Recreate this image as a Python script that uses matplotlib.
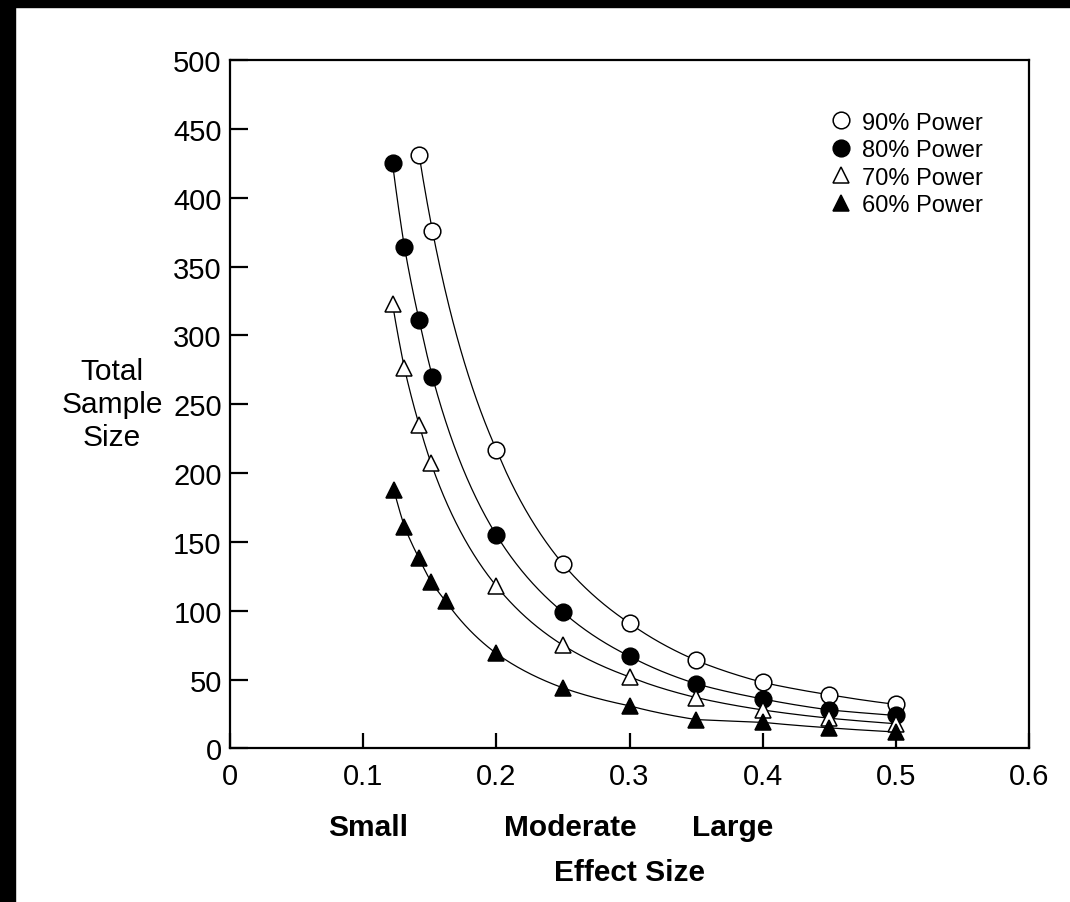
import matplotlib
matplotlib.use("Agg")
import matplotlib.pyplot as plt
from matplotlib.patches import Rectangle
import numpy as np

plt.rcParams['font.family'] = ['Liberation Sans', 'DejaVu Sans']

# effect size (x) and total sample size (y) for each power level
x90 = [0.142, 0.152, 0.20, 0.25, 0.30, 0.35, 0.40, 0.45, 0.50]
y90 = [431, 376, 217, 134, 91, 64, 48, 39, 32]

x80 = [0.122, 0.131, 0.142, 0.152, 0.20, 0.25, 0.30, 0.35, 0.40, 0.45, 0.50]
y80 = [425, 364, 311, 270, 155, 99, 67, 47, 36, 28, 24]

x70 = [0.122, 0.131, 0.142, 0.151, 0.20, 0.25, 0.30, 0.35, 0.40, 0.45, 0.50]
y70 = [323, 276, 235, 207, 118, 75, 52, 37, 28, 22, 18]

x60 = [0.123, 0.131, 0.142, 0.151, 0.162, 0.20, 0.25, 0.30, 0.35, 0.40, 0.45, 0.50]
y60 = [188, 161, 138, 121, 107, 69, 44, 31, 21, 19, 15, 12]

labels = ["90% Power", "80% Power", "70% Power", "60% Power"]
xticks = [0, 0.1, 0.2, 0.3, 0.4, 0.5, 0.6]
xticklabels = ["0", "0.1", "0.2", "0.3", "0.4", "0.5", "0.6"]
yticks = [0, 50, 100, 150, 200, 250, 300, 350, 400, 450, 500]
size_names = ["Small", "Moderate", "Large"]

fig = plt.figure(figsize=(10.7, 9.03), dpi=100)
ax = fig.add_axes([0.215, 0.17, 0.7467, 0.7624])

def smooth(xs, ys):
    # connecting curve: interpolate in log-log space
    lx = np.log(xs)
    t = np.linspace(lx[0], lx[-1], 300)
    return np.exp(t), np.exp(np.interp(t, lx, np.log(ys)))

series = [(x90, y90, 'o', 'white'), (x80, y80, 'o', 'black'),
          (x70, y70, '^', 'white'), (x60, y60, '^', 'black')]
for (xs, ys, m, fc), lab in zip(series, labels):
    sx, sy = smooth(xs, ys)
    ax.plot(sx, sy, color='black', lw=0.9, zorder=2)
    ms = 12 if m == 'o' else 11
    ax.plot(xs, ys, ls='none', marker=m, ms=ms, mfc=fc, mec='black', mew=1.1,
            zorder=3, label=lab)

ax.set_xlim(0, 0.6)
ax.set_ylim(0, 500)
ax.set_xticks(xticks)
ax.set_xticklabels(xticklabels)
ax.set_yticks(yticks)
for s in ax.spines.values():
    s.set_linewidth(1.6)
ax.tick_params(direction='in', length=13, width=1.6, labelsize=21, colors='black')
ax.tick_params(axis='y', pad=6)
ax.tick_params(axis='x', pad=10, length=11)

leg = ax.legend(loc='upper right', bbox_to_anchor=(0.9424, 0.925), frameon=False,
                fontsize=17, handlelength=0.8, handletextpad=0.5,
                labelspacing=0.23, borderaxespad=0, borderpad=0)

fig.text(112 / 1070, 1 - 405 / 903, "Total\nSample\nSize", ha='center',
         va='center', fontsize=21.5, linespacing=1.22)
for name, px in zip(size_names, [368, 570, 733]):
    fig.text(px / 1070, 1 - 828 / 903, name, ha='center', va='center',
             fontsize=21.5, fontweight='bold')
fig.text(630 / 1070, 1 - 873 / 903, "Effect Size", ha='center', va='center',
         fontsize=21.5, fontweight='bold')

# scanned page border
fig.patches.append(Rectangle((0, 1 - 8 / 903), 1, 8 / 903, transform=fig.transFigure,
                             color='black', zorder=10))
fig.patches.append(Rectangle((0, 0), 15 / 1070, 1, transform=fig.transFigure,
                             color='black', zorder=10))

fig.savefig("out.png", dpi=100)
